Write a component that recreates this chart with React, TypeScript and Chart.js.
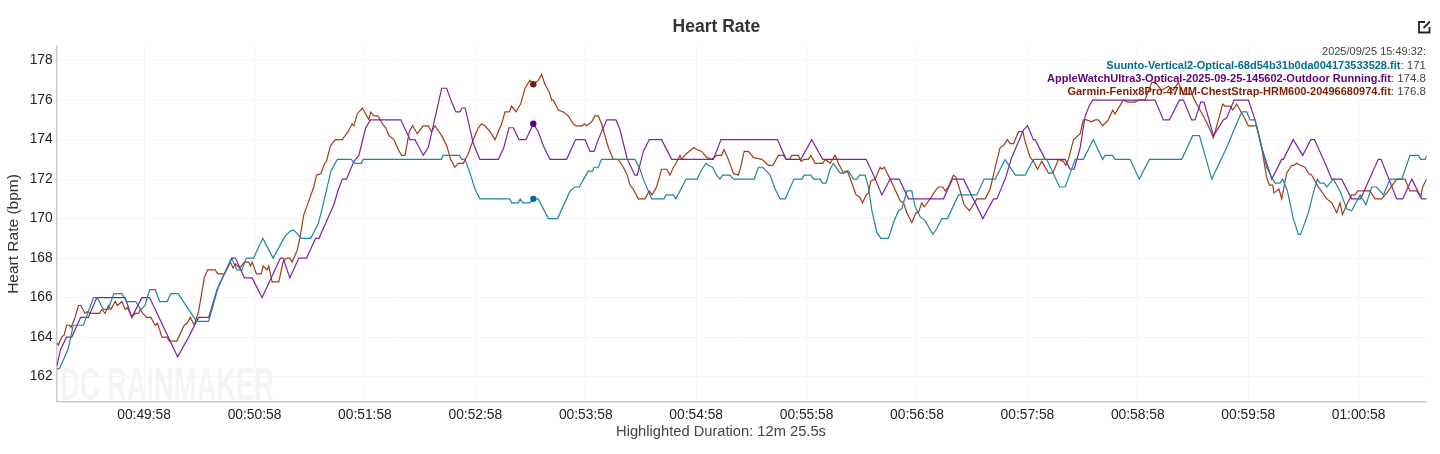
import React, { useEffect, useRef } from "react";
import { Chart, registerables } from "chart.js";

Chart.register(...registerables);

const FONT = "'Liberation Sans', Arial, sans-serif";

// Seconds elapsed since the highlighted range starts (00:49:10.5), then bpm
const suunto: [number, number][] = [
  [0,162.4],[1.5,162.4],[6.2,163.4],[9,164.6],[14.5,164.6],[20,166],[22,166],[25.4,165.4],[28,165.4],[31,166.2],[35.4,166.2],[38,165.8],[43,165.8],[45.7,165.4],[48,165.6],[50.5,166.4],[53.5,166.4],[56,165.8],[60,165.8],[62,166.2],[66,166.2],[76,164.8],[82.5,164.8],[85,165.6],[88,166.6],[95,168],[98,167.4],[100.7,167.4],[103,168],[107,168],[112,169],[117.6,168],[123.4,169],[125,169.2],[127.4,169.4],[129,169.4],[133,169],[138,169],[142,169.7],[144,170.4],[149,172.4],[152.5,173],[160,173],[162,172.8],[165.5,172.8],[166.6,173],
  [209,173],[210,173.2],[218.8,173.2],[220.2,173],[221.9,173],[224.6,172.3],[227.3,171.5],[230,171],[246.3,171],[247.2,170.8],[250.8,170.8],[251.9,171],[253.2,170.8],[257.2,170.8],[259,171],[261.7,171],[267.2,170],[272.2,170],[279,171.4],[281.6,171.6],[284,171.6],[287,172.1],[288.9,172.4],[291.2,172.4],[292,172.6],[294.3,172.6],[296.1,173],[314.2,173],[317,172.5],[318.8,172],[323.3,171],[330,171],[331.1,171.2],[335.1,171.2],[336.5,171],[342,172],[348.1,172],[350,172.4],[352.8,172.8],[354.1,172.7],[356.5,172.6],[358.6,172.2],[360.4,172],[361.9,172.2],[365.9,172.2],[367.7,172],
  [379,172],[381.4,172.6],[383.7,172.6],[387.7,172.2],[390.4,171.5],[393.1,171],[395.9,171],[400.7,172],[404.9,172],[406.2,172.2],[409.8,172.2],[411.3,172],[414.9,172],[416.1,171.8],[418.1,171.8],[420.3,172.5],[422.1,172.8],[425.7,172.3],[427.2,172.3],[428.5,172.4],[430.3,172.4],[433,172],[434.8,172],[436.3,172.2],[439.3,172.2],[441.1,171.6],[443,170.4],[445.7,169.3],[447.9,169],[452,169],[454.7,169.8],[457.5,170.4],[459.3,170.5],[462,171.4],[464.7,171.4],[466.5,170.6],[469.2,170.1],[471.9,169.9],[476.1,169.2],[478.3,169.5],[481,170],[484.1,170],[490,171.2],[500,171.2],[504,172],[510,172],[515.4,173],[520.9,172.2],[526.3,172.2],[530.8,173],[538,173],[545,171.6],[548,171.6],[553.5,173],
  [557.9,173],[563.3,174],[568.4,173],[569.7,173.2],[573.9,173.2],[575.1,173],[583.3,173],[588.3,172],[593.8,173],[611.4,173],[617.3,174.2],[621,174.2],[627.7,172],[635.8,173.6],[641.2,174.8],[644,175.4],[646.7,175.4],[648.5,175],[651.2,175],[653.9,174],[657.5,172.6],[660.8,172],[662,171.8],[664.8,171.8],[666.2,172],[668.8,171.4],[672,170],[674.8,169.2],[676,169.2],[680.2,170.3],[682.9,171.3],[685.1,172],[686.5,171.8],[688.7,171.8],[690.2,171.6],[693.8,172],[697.4,171.4],[701,170.5],[703.7,170.4],[708.3,171.2],[711.5,170.7],[714.6,171.6],[717.3,171.6],[721,171.2],[724.6,172],[731,172],[735.4,173.2],[740,173.2],[741.2,173],[743.6,173],[744.5,173.2],
];

const appleWatch: [number, number][] = [
  [0,162.5],[2.2,163.4],[5.4,164],[8.2,164],[13,165],[17.2,165],[21.8,166],[37.2,166],[40.8,165],[46.3,166],[50.5,166],[65.7,163],[71.7,164],[77.1,165],[82.6,165],[87.1,166.4],[95.3,168],[97.1,168],[102,167],[106.2,167],[111.6,166],[121.6,168],[123,168],[126.7,167],[131.6,168],[135.8,168],[140.7,169],[142.5,169],[150.6,170.7],[152.8,171.4],[155.2,172],[157.5,172],[161.5,172.9],[164.2,173.2],[167.9,174.6],[170.6,175],
  [187,175],[192,174],[194.7,174],[199.2,173.2],[201.9,173.6],[205.6,175.1],[209.2,176.6],[211.9,176.6],[214.6,175.9],[217,175.4],[219.1,175.4],[220.2,175.6],[222,175.6],[226.4,173.8],[230,173],[240,173],[243,173.6],[245.8,174.6],[248.1,174.6],[251.2,174],[255,174],[259,174.8],[261.7,174.4],[264.4,173.7],[268,173],[277.1,173],[282,174],[287.1,174],[289.8,173.4],[292,173.4],[294.3,174],[298.9,175],[303.9,175],[306.1,174.5],[310.1,173],[314.2,172.2],[315.5,172.2],[318.8,173.4],[322,174],[328.7,174],[334.2,173],[356.8,173],[361,174],
  [391.7,174],[396.4,173],[404.4,173],[410.3,174],[416.3,173],[439.9,173],[443.9,172.2],[448.4,171.2],[452.9,172],[457.8,172],[462.9,171],[481.9,171],[486.8,172],[492.8,172],[503.3,170],[509.1,171],[510.9,171],[515.4,172],[519,173.1],[525.4,174.5],[527.6,174.7],[530.8,174],[531.7,174],[537.2,173],[548,173],[550.7,172.5],[552.9,172.5],[556.2,173.6],[558.9,175.2],[561.6,175.8],
  [563,176],[596.9,176],[601.4,175],[604.7,175],[610.1,176],[612.3,176],[616.8,175],[618.6,175],[621.7,175.9],[623.5,175.9],[628.6,174.2],[634,175],[635.8,175.1],[639.8,176],[647.6,176],[651.2,175],[654.8,173.6],[660.3,172],[665.7,173],[666.6,173],[672,174],[677.1,173.2],[681.5,174],[683.5,174],[689.3,172.8],[692.9,172],[698.3,172],[703.7,171],[708.6,171],[718.2,173],[719.7,173],[728.2,171],[731.5,171],[736.4,172],[741.8,171],[744.5,171],
];

const garmin: [number, number][] = [
  [0,163.7],[0.9,163.6],[2.7,164],[4,164.1],[5.4,164.6],[6.9,164.6],[7.8,164.5],[10,165],[11.8,165.6],[13.1,165.6],[15.4,165.2],[16.9,165.3],[18.1,165.2],[23.2,165.2],[24.5,165.4],[26.3,165.2],[28.1,165.6],[29.4,165.4],[31.8,165.8],[33,165.6],[35.4,165.8],[37.2,165.4],[38.5,165.5],[40.8,165],[42.6,165.2],[44.5,165.2],[45.4,165.4],[46.8,165.2],[49,165],[51.2,165],[53.5,164.6],[54.8,164.7],[57.2,164],[59.9,164],[61.3,163.8],[65.3,163.8],[69.3,164.6],[70.8,164.7],[72.6,165],[74.8,164.6],[77.1,165.3],[80.2,167],[82,167.4],[86.2,167.4],[87.5,167.2],[91.1,167.2],[94.4,167.8],[95.8,167.5],[97.1,167.7],[99.5,167.5],[102,167.8],[104.4,167.8],[105.3,167.6],[106.2,167.8],[108.5,167.2],[111.1,167.2],[112.2,167.6],[114.3,167.4],[115.2,167.6],[117.1,166.8],[120.7,166.8],[123,167.8],[124.9,168],[126.7,168],[127.9,167.8],[130.7,168.4],[132.1,169],[134.3,170.2],[137,170.9],[139.7,171.6],[141.2,172.2],[143.7,172.3],[145.6,172.8],[146.6,172.9],[148.8,173.7],[151.5,174],[155.2,174],[158.3,174.4],[160.6,174.8],[161.5,174.7],[163.3,175.3],[166.1,175.6],[169.7,175],[170.6,175.4],[172.4,175.2],[174.6,175.2],[177,174.8],[178.8,174.6],[180.6,174.2],
  [183.3,174],[185.6,173.5],[187.4,173.2],[189.3,173.2],[191.6,174.4],[193.4,174.7],[196,174.3],[199.2,174.7],[201.9,174.7],[203.7,174.4],[205.6,174.7],[209.2,174.2],[211.9,173.7],[214.1,173],[216.4,172.6],[218.2,172.8],[221,172.8],[223.7,173.3],[226.4,174],[229.1,174.6],[230.9,174.8],[232.7,174.7],[235.5,174.4],[238.2,174],[241.8,174.8],[243.6,175.4],[246,175.4],[247.2,175.7],[249.6,175.4],[252.1,175.8],[254.5,176.6],[257.2,177],[259,176.8],[261.7,177],[263.5,177.3],[265.3,176.8],[267.7,176.4],[269,176],[269.9,176],[272.6,175.5],[275.3,175.4],[278,175.2],[280.7,174.8],[282.2,174.7],[285.8,174.7],[286.7,174.8],[288,174.7],[290.7,174.9],[292.5,175.2],[294.3,175.2],[296.1,174.8],[299.8,173.6],[302.5,173],[305.2,173],[307.9,172.6],[310.1,172.2],[311.5,171.7],[313.3,171.5],[316.1,171],[319.7,171],[322,171.4],[323.5,171.2],[326,171.6],[328.7,172.5],[331.5,172.5],[333.3,172.2],[335.1,172.6],[336,172.7],[338.7,173.2],[339.6,173],[342.3,173.3],[345,173.5],[346.3,173.6],[347.8,173.5],[350.5,173.4],[353.2,173.1],[355.9,173],[358.6,173.2],[361.3,173.2],[362.6,173.5],[365,173],[367.7,172.3],[370.4,172.2],
  [371.4,172.5],[373.6,173.4],[375.9,173.4],[378.6,173.1],[383.2,173],[386.8,172.7],[389.2,172.7],[392.2,173.2],[395,173.2],[396.4,173],[398.2,173],[399.5,173.2],[403.1,173.2],[404.4,172.9],[406.2,173],[408.5,173],[409.8,173.2],[412.2,172.8],[416.3,172.8],[417.6,173],[420.3,172.8],[423,173.2],[424.8,172.8],[427.6,172.3],[429.7,172.4],[432.1,171.8],[434.4,171.2],[436.3,171.1],[437.9,170.8],[439.9,171.2],[441.1,171.3],[442.4,171.9],[444.8,172],[447.5,172.6],[448.4,172.5],[449.7,172.6],[452.9,172],[458.4,170.9],[460.2,170.8],[462,170.3],[464.7,169.8],[467,170.3],[468.3,170.3],[470.1,170.8],[471.4,170.6],[474.7,171],[477.4,171.4],[479.2,171.6],[481.5,171.6],[482.8,171.4],[484.6,171.6],[485.9,171.9],[487.3,172.2],[488.6,172.1],[491,171.4],[493.1,170.7],[496,170.4],[500,171],[504.6,171],[507.3,171.5],[510,172.6],[512.7,173.6],[514.5,173.7],[516.7,174],[518.1,173.8],[520,173.8],[522.7,174.4],[525,174.4],[526.3,173.9],[529,173.1],[530.8,172.9],[533,172.5],[535.3,172.9],[539,172.3],[541.3,172.3],[544.4,173],[547.1,172.9],[548.4,172.7],[549.8,173],[552.6,174],[556.2,174.3],
  [557.9,175],[559.7,175],[562.4,174.9],[564.3,175],[566.1,175],[568.4,174.7],[571.5,175],[573.9,175.5],[575.1,175.3],[579.6,176],[582.4,175.9],[586,175.9],[587.8,176],[591.4,176],[595.1,176.9],[596.9,176.9],[600.5,176.5],[604.1,176.7],[606.8,176.5],[609.5,176.9],[612.3,176.3],[616.8,176.3],[619.5,175.8],[623.1,175.2],[625.8,174.7],[628.6,174.1],[631.3,175],[633.6,175.8],[634.9,175.7],[637.6,175.7],[639.1,175.5],[641.2,175.8],[644.9,175.2],[647.6,174.7],[652.1,174.7],[654.8,173.6],[657.5,172.1],[659,171.7],[660.8,171.7],[661.5,171.3],[664.2,171.5],[665.7,171],[668.4,172.3],[671.1,172.7],[672.4,172.7],[673.9,172.8],[675.7,172.7],[678.4,172.6],[680.2,172.3],[682,172.2],[685.6,171.6],[690.2,171],[692.9,170.8],[695.6,170.3],[697.4,170.8],[698.7,170.2],[701,170.7],[703.7,171.2],[705.6,171.2],[707,171.4],[710.1,171.4],[713.7,171.4],[716.4,171],[720,171],[723.7,171.4],[728.2,172],[732.7,172],[735.4,171.4],[739.1,171.4],[741.2,171.1],[742.3,171.6],[744.5,172],
];

const seriesNames = [
  "Suunto-Vertical2-Optical-68d54b31b0da004173533528.fit",
  "AppleWatchUltra3-Optical-2025-09-25-145602-Outdoor Running.fit",
  "Garmin-Fenix8Pro-47MM-ChestStrap-HRM600-20496680974.fit",
];
const hoverValues = ["171", "174.8", "176.8"];
const hoverTime = 259;
const hoverStamp = "2025/09/25 15:49:32:";
const lineColors = ["#1f859f", "#7d22a3", "#a13c17"];
const darkColors = ["#006f8f", "#5f0080", "#7d1f00"];

const yTicks = [162, 164, 166, 168, 170, 172, 174, 176, 178];
const xTicks = [47.5, 107.5, 167.5, 227.5, 287.5, 347.5, 407.5, 467.5, 527.5, 587.5, 647.5, 707.5];
const rangeStartClock = 2950.5;

const clock = (t: number) => {
  const s = Math.round(rangeStartClock + t);
  const p = (n: number) => String(n).padStart(2, "0");
  return `${p(Math.floor(s / 3600))}:${p(Math.floor((s % 3600) / 60))}:${p(s % 60)}`;
};

const overlay = {
  id: "overlay",
  beforeDatasetsDraw(chart: any) {
    const { ctx } = chart;
    ctx.save();
    ctx.fillStyle = "#f4f4f4";
    ctx.font = `bold 46px ${FONT}`;
    ctx.textAlign = "left";
    ctx.textBaseline = "alphabetic";
    ctx.fillText("DC RAINMAKER", 60, 400, 214);
    ctx.restore();
  },
  afterDatasetsDraw(chart: any) {
    const { ctx } = chart;
    ctx.save();
    ctx.textBaseline = "middle";
    ctx.textAlign = "right";
    const right = 1426;
    const ys = [65.5, 78.8, 92];
    ctx.font = `11px ${FONT}`;
    ctx.fillStyle = "#444";
    ctx.fillText(hoverStamp, right, 52);
    seriesNames.forEach((name, i) => {
      const val = `: ${hoverValues[i]}`;
      ctx.font = `11.5px ${FONT}`;
      ctx.fillStyle = "#444";
      ctx.fillText(val, right, ys[i]);
      const w = ctx.measureText(val).width;
      ctx.font = `bold 11px ${FONT}`;
      ctx.fillStyle = darkColors[i];
      ctx.fillText(name, right - w, ys[i]);
    });

    ctx.fillStyle = "#444";
    ctx.textAlign = "center";
    ctx.font = `14.7px ${FONT}`;
    ctx.fillText("Highlighted Duration: 12m 25.5s", 721, 432);

    ctx.save();
    ctx.translate(13.5, 234);
    ctx.rotate(-Math.PI / 2);
    ctx.font = `15.5px ${FONT}`;
    ctx.fillStyle = "#333";
    ctx.fillText("Heart Rate (bpm)", 0, 0);
    ctx.restore();

    // export icon, top right
    ctx.strokeStyle = "#222";
    ctx.lineWidth = 1.8;
    ctx.beginPath();
    ctx.moveTo(1425, 22);
    ctx.lineTo(1419, 22);
    ctx.lineTo(1419, 32.5);
    ctx.lineTo(1429.5, 32.5);
    ctx.lineTo(1429.5, 27);
    ctx.moveTo(1423.5, 28);
    ctx.lineTo(1430, 21.5);
    ctx.stroke();
    ctx.restore();
  },
};

const toPoints = (rows: [number, number][]) => rows.map(([x, y]) => ({ x, y }));

export default function App() {
  const ref = useRef<HTMLCanvasElement>(null);
  useEffect(() => {
    const sets = [suunto, appleWatch, garmin];
    const chart = new Chart(ref.current!, {
      type: "line",
      data: {
        datasets: sets.map((rows, i) => ({
          label: seriesNames[i],
          data: toPoints(rows),
          borderColor: lineColors[i],
          borderWidth: 1.2,
          tension: 0,
          pointRadius: rows.map(([t]) => (t === hoverTime ? 3.2 : 0)),
          pointBackgroundColor: darkColors[i],
          pointBorderWidth: 0,
        })),
      },
      options: {
        responsive: false,
        animation: false,
        layout: { padding: { left: 6, right: 13.3, top: 0, bottom: 0 } },
        plugins: {
          legend: { display: false },
          tooltip: { enabled: false },
          title: {
            display: true,
            text: "Heart Rate",
            color: "#333",
            font: { family: FONT, size: 17.5, weight: "bold", lineHeight: 1.2 },
            padding: { top: 16.5, bottom: 8.5 },
          },
        },
        scales: {
          x: {
            type: "linear",
            min: 0,
            max: 744.5,
            afterBuildTicks: (s: any) => {
              s.ticks = xTicks.map((value) => ({ value }));
            },
            afterFit: (s: any) => {
              s.height = 52.5;
            },
            ticks: {
              callback: (v: any) => clock(Number(v)),
              color: "#222",
              font: { family: FONT, size: 13.8 },
              padding: 5,
              maxRotation: 0,
              autoSkip: false,
            },
            grid: { color: "#f5f5f5", lineWidth: 1, drawTicks: false },
            border: { color: "#ccc", width: 1.5 },
          },
          y: {
            type: "linear",
            min: 160.74,
            max: 178.74,
            afterBuildTicks: (s: any) => {
              s.ticks = yTicks.map((value) => ({ value }));
            },
            afterFit: (s: any) => {
              s.width = 50.7;
            },
            ticks: {
              callback: (v: any) => String(v),
              color: "#222",
              font: { family: FONT, size: 13.8 },
              padding: 4,
              autoSkip: false,
            },
            grid: { color: "#f5f5f5", lineWidth: 1, drawTicks: false },
            border: { color: "#ccc", width: 1.5 },
          },
        },
      } as any,
      plugins: [overlay],
    });
    return () => chart.destroy();
  }, []);
  return (
    <canvas
      ref={ref}
      width={1440}
      height={454}
      style={{ position: "fixed", left: 0, top: 0, width: 1440, height: 454, background: "#fff" }}
    />
  );
}
